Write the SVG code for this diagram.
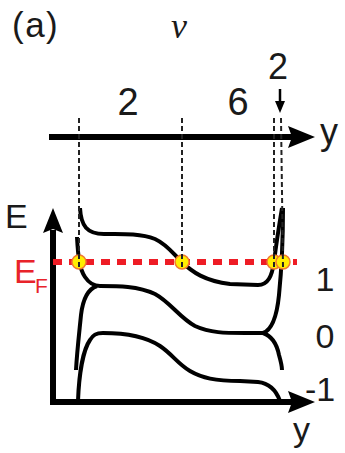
<svg xmlns="http://www.w3.org/2000/svg" width="345" height="453" viewBox="0 0 345 453">
<style>
.t{font-family:"Liberation Sans",Arial,sans-serif;fill:#1a1a1a}
.band{fill:none;stroke:#000;stroke-width:4}
.vd{stroke:#222;stroke-width:2;stroke-dasharray:5 3;fill:none}
.dot{fill:#ffee00;stroke:#f07a30;stroke-width:1.5}
.ax{stroke:#000;stroke-width:6;fill:none}
</style>
<rect width="345" height="453" fill="#fff"/>
<g id="labels">
<text class="t" x="12" y="37" font-size="35" letter-spacing="1.5">(a)</text>
<text x="171" y="38" font-size="36" font-style="italic" font-family="Liberation Serif,serif" fill="#1a1a1a">ν</text>
<text class="t" x="128" y="115" font-size="38" text-anchor="middle">2</text>
<text class="t" x="238" y="115" font-size="38" text-anchor="middle">6</text>
<text class="t" x="278" y="79" font-size="36" text-anchor="middle">2</text>
<text class="t" x="320" y="144" font-size="36">y</text>
<text class="t" x="5" y="228" font-size="34">E</text>
<text x="14" y="283" font-size="34" font-family="Liberation Sans,Arial,sans-serif" fill="#e8232a">E</text>
<text x="35" y="293" font-size="21" font-family="Liberation Sans,Arial,sans-serif" fill="#e8232a">F</text>
<text class="t" x="325" y="291" font-size="34" text-anchor="middle">1</text>
<text class="t" x="325" y="348" font-size="34" text-anchor="middle">0</text>
<text class="t" x="320" y="401" font-size="34" text-anchor="middle">-1</text>
<text class="t" x="293" y="441" font-size="34">y</text>
</g>
<g id="top-axis">
<line class="ax" x1="49" y1="137" x2="294" y2="137"/>
<polygon points="288,126 315,137 288,148 292,137" fill="#000"/>
<line x1="280" y1="89" x2="280" y2="103" stroke="#000" stroke-width="2.5"/>
<polygon points="275,101 280,113 285,101" fill="#000"/>
</g>
<g id="e-axes">
<path class="ax" d="M53,230 L53,402 L294,402" stroke-linejoin="miter"/>
<polygon points="43,233 53,208 63,233 53,229" fill="#000"/>
<polygon points="288,391 315,402 288,413 292,402" fill="#000"/>
</g>
<g id="bands">
<path id="band1" class="band" d="M80,208 C81,226 87,234 104,234 C120,234 140,233 155,239 C168,245 175,256 182,262 C192,272 205,281 230,284 L258,285 C268,285 272,276 274,262 C276,246 279,226 282,208"/>
<path id="band0" class="band" d="M77,237 C78,255 79,268 85,277 C89,283 93,286 100,286 C118,286 138,286 155,294 C170,302 180,318 195,326 C210,333 225,333 245,333 L263,333 C272,330 277,315 279,295 C281,275 283,250 283,208"/>
<path id="band0-right" class="band" d="M263,333 C272,336 277,345 279,355 C281,362 282,366 282,370"/>
<path id="band0-left" class="band" d="M97,286 C88,289 83,298 81,315 C79,335 77,352 76,370"/>
<path id="band-1" class="band" d="M78,401 C79,375 83,350 90,340 C93,335 96,333 103,333 C125,333 145,336 160,346 C172,354 178,364 190,371 C202,378 215,381 240,381 L258,382 C268,383 276,390 280,401"/>
</g>
<g id="fermi">
<line x1="53" y1="262" x2="297" y2="262" stroke="#ee1c25" stroke-width="6" stroke-dasharray="9 7"/>
</g>
<g id="crossings">
<circle class="dot" cx="79" cy="262" r="7"/>
<circle class="dot" cx="182" cy="262" r="7"/>
<circle class="dot" cx="274" cy="262" r="7"/>
<circle class="dot" cx="283" cy="262" r="7"/>
</g>
<g id="connectors">
<line class="vd" x1="79" y1="118" x2="79" y2="267"/>
<line class="vd" x1="182" y1="118" x2="182" y2="267"/>
<line class="vd" x1="274" y1="118" x2="274" y2="267"/>
<line class="vd" x1="281" y1="118" x2="283" y2="267"/>
</g>
</svg>
